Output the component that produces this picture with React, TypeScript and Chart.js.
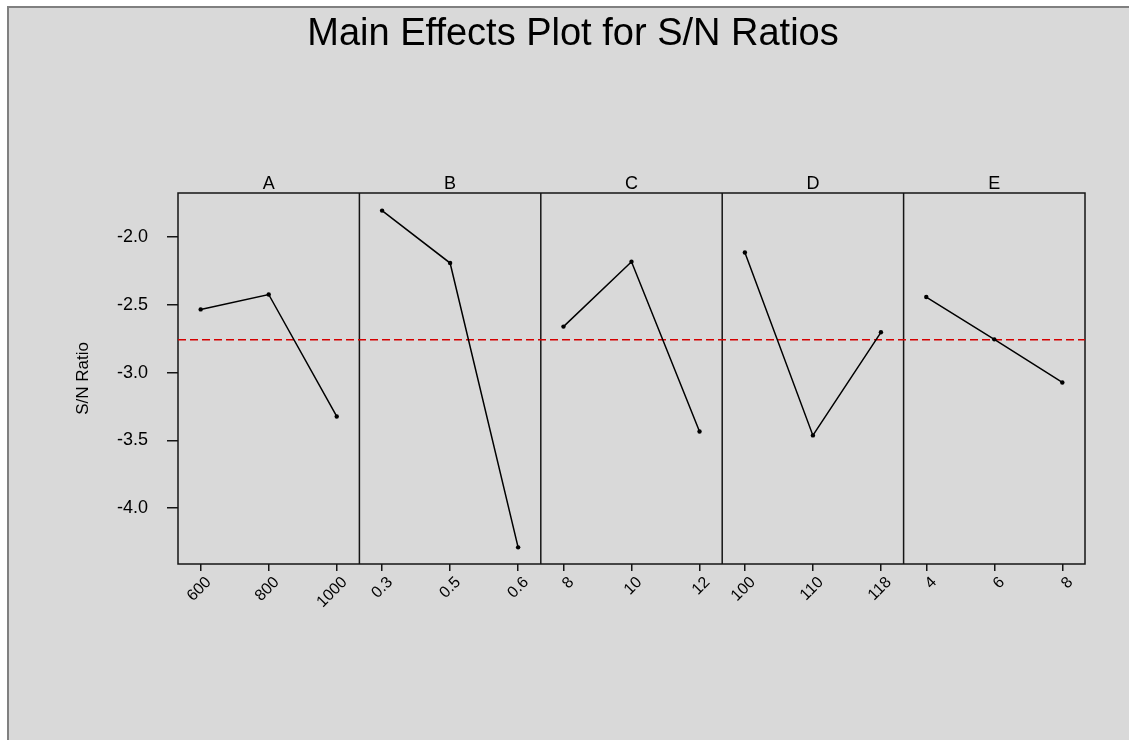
import React, { useEffect, useRef } from 'react';
import { Chart, registerables } from 'chart.js';

Chart.register(...registerables);

const TITLE = 'Main Effects Plot for S/N Ratios';
const Y_TITLE = 'S/N Ratio';
const FACTORS = ['A', 'B', 'C', 'D', 'E'];

const LEVELS_A = ['600', '800', '1000'];
const LEVELS_B = ['0.3', '0.5', '0.6'];
const LEVELS_C = ['8', '10', '12'];
const LEVELS_D = ['100', '110', '118'];
const LEVELS_E = ['4', '6', '8'];

const SN_A = [-2.533, -2.423, -3.323];
const SN_B = [-1.804, -2.191, -4.289];
const SN_C = [-2.66, -2.181, -3.434];
const SN_D = [-2.113, -3.463, -2.702];
const SN_E = [-2.442, -2.754, -3.072];

const MEAN_SN = -2.757;
const Y_TICKS = [-4.0, -3.5, -3.0, -2.5, -2.0];
const Y_MIN = -4.412;
const Y_MAX = -1.674;

const LEVELS = [LEVELS_A, LEVELS_B, LEVELS_C, LEVELS_D, LEVELS_E];
const SN = [SN_A, SN_B, SN_C, SN_D, SN_E];

const FONT = 'Liberation Sans, Arial, Helvetica, sans-serif';

const framePlugin = {
  id: 'minitabFrame',
  beforeDatasetsDraw(chart: any) {
    const { ctx, chartArea } = chart;
    const { left, top, right, bottom } = chartArea;
    ctx.save();
    // frame
    ctx.strokeStyle = '#151515';
    ctx.lineWidth = 1.5;
    ctx.strokeRect(left, top, right - left, bottom - top);
    // panel dividers and labels
    ctx.fillStyle = '#000';
    ctx.font = `18px ${FONT}`;
    ctx.textAlign = 'center';
    ctx.textBaseline = 'alphabetic';
    FACTORS.forEach((f, i) => {
      const s = chart.scales['x' + i];
      if (i > 0) {
        ctx.beginPath();
        ctx.moveTo(s.left, top);
        ctx.lineTo(s.left, bottom);
        ctx.stroke();
      }
      ctx.fillText(f, (s.left + s.right) / 2, top - 4);
    });
    // mean line
    const yp = chart.scales.y.getPixelForValue(MEAN_SN);
    ctx.strokeStyle = '#d40000';
    ctx.lineWidth = 1.3;
    ctx.setLineDash([8, 4]);
    ctx.beginPath();
    ctx.moveTo(left, yp);
    ctx.lineTo(right, yp);
    ctx.stroke();
    ctx.setLineDash([]);
    // title
    ctx.fillStyle = '#000';
    ctx.font = `38px ${FONT}`;
    ctx.textAlign = 'center';
    ctx.fillText(TITLE, chart.width / 2 + 4, 37);
    ctx.restore();
  },
};

export default function App() {
  const canvasRef = useRef<HTMLCanvasElement | null>(null);

  useEffect(() => {
    if (!canvasRef.current) return;
    Chart.defaults.font.family = FONT;
    Chart.defaults.color = '#000';

    const scales: any = {
      y: {
        type: 'linear',
        position: 'left',
        min: Y_MIN,
        max: Y_MAX,
        afterBuildTicks: (s: any) => {
          s.ticks = Y_TICKS.map((v) => ({ value: v }));
        },
        ticks: {
          callback: (v: any) => Number(v).toFixed(1),
          font: { size: 18 },
          color: '#000',
          padding: 19,
        },
        grid: { drawOnChartArea: false, drawTicks: true, tickLength: 11, color: '#151515', lineWidth: 1.5 },
        border: { display: false },
        title: {
          display: true,
          text: Y_TITLE,
          font: { size: 17 },
          color: '#000',
          padding: { top: 64, bottom: 0 },
        },
        afterFit: (s: any) => {
          s.width = 169;
        },
      },
    };

    FACTORS.forEach((f, i) => {
      scales['x' + i] = {
        type: 'linear',
        position: 'bottom',
        stack: 'panels',
        stackWeight: 1,
        min: -1 / 3,
        max: 7 / 3,
        afterBuildTicks: (s: any) => {
          s.ticks = [0, 1, 2].map((v) => ({ value: v }));
        },
        ticks: {
          callback: (v: any, idx: number) => LEVELS[i][idx],
          minRotation: 45,
          maxRotation: 45,
          autoSkip: false,
          font: { size: 16 },
          color: '#000',
          padding: 2,
          labelOffset: 8,
        },
        grid: { drawOnChartArea: false, drawTicks: true, tickLength: 7, color: '#151515', lineWidth: 1.5 },
        border: { display: false },
        afterFit: (s: any) => {
          s.height = 176;
        },
      };
    });

    const chart = new Chart(canvasRef.current, {
      type: 'line',
      data: {
        datasets: FACTORS.map((f, i) => ({
          label: f,
          data: SN[i].map((v, j) => ({ x: j, y: v })),
          xAxisID: 'x' + i,
          yAxisID: 'y',
          borderColor: '#000',
          borderWidth: 1.5,
          pointRadius: 2.2,
          pointBackgroundColor: '#000',
          pointBorderColor: '#000',
          pointBorderWidth: 0,
          tension: 0,
          fill: false,
        })),
      },
      options: {
        animation: false,
        responsive: true,
        maintainAspectRatio: false,
        layout: { padding: { top: 185, right: 44, left: 0, bottom: 0 } },
        plugins: {
          legend: { display: false },
          title: { display: false },
          tooltip: { enabled: false },
        },
        scales,
      },
      plugins: [framePlugin],
    } as any);

    return () => chart.destroy();
  }, []);

  return (
    <div
      style={{
        position: 'fixed',
        left: 7,
        top: 6,
        width: 1129 - 7,
        height: 740 - 6,
        borderLeft: '2px solid #808080',
        borderTop: '2px solid #808080',
        background: '#d9d9d9',
        boxSizing: 'border-box',
        overflow: 'hidden',
      }}
    >
      <div style={{ position: 'relative', width: '100%', height: '100%' }}>
        <canvas ref={canvasRef} />
      </div>
    </div>
  );
}
